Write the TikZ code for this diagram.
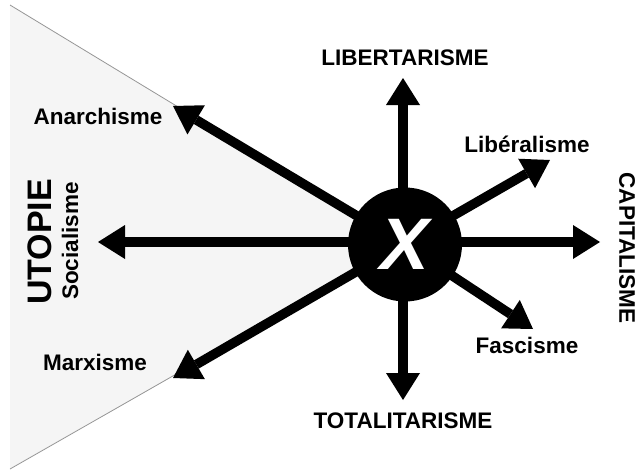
\documentclass[tikz,border=0pt]{standalone}
\usepackage{fontspec}
\setmainfont{Liberation Sans}
\usetikzlibrary{arrows.meta}
\definecolor{gfill}{RGB}{245,245,245}
\definecolor{gedge}{RGB}{150,150,150}
\begin{document}
\begin{tikzpicture}[x=1pt,y=-1pt,
  axis/.style={line width=9.5pt,-{Triangle[width=34pt,length=27pt,line width=0pt]}},
  lab/.style={font=\fontsize{22.5}{24}\selectfont\bfseries,inner sep=0pt},
]
\useasboundingbox (0,0) rectangle (637,471);
\coordinate (c) at (404,244);
\coordinate (tl) at (10,5);
\coordinate (bl) at (10,469);
\fill[gfill] (tl) -- (c) -- (bl) -- cycle;
\draw[gedge, line width=0.8pt] (tl) -- (c) -- (bl);
% arrow tips
\coordinate (up) at (403,78);
\coordinate (down) at (403,400);
\coordinate (right) at (600,242);
\coordinate (left) at (98,242);
\coordinate (ana) at (173,106);
\coordinate (mar) at (173,378);
\coordinate (lib) at (550,160);
\coordinate (fas) at (533,329);
\draw[axis] (c |- right) -- (right);
\draw[axis] (c |- left) -- (left);
\draw[axis] (up |- c) -- (up);
\draw[axis] (down |- c) -- (down);
\draw[axis] (c) -- (ana);
\draw[axis] (c) -- (mar);
\draw[axis] (c) -- (lib);
\draw[axis] (c) -- (fas);
\node[circle,fill=black,minimum size=114pt,inner sep=0pt,text=white,
      font=\fontsize{73}{75}\selectfont\bfseries\itshape] (x) at (405,244.5) {X};
% labels
\node[lab] (tlib) at (405,58) {LIBERTARISME};
\node[lab] (ttot) at (403,421) {TOTALITARISME};
\node[lab] (tlibe) at (527,144) {Libéralisme};
\node[lab] (tfas) at (527,345) {Fascisme};
\node[lab] (tana) at (98,116) {Anarchisme};
\node[lab] (tmar) at (95,362) {Marxisme};
\node[lab,rotate=-90] (tcap) at (627,248) {CAPITALISME};
\node[lab,rotate=90] (tsoc) at (70,241) {Socialisme};
\node[lab,rotate=90,font=\fontsize{34}{36}\selectfont\bfseries] (tuto) at (40,242) {UTOPIE};
\end{tikzpicture}
\end{document}
